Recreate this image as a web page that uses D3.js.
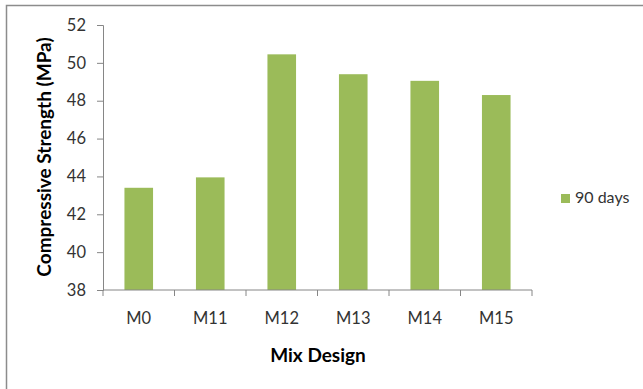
<!DOCTYPE html>
<html><head><meta charset="utf-8">
<script src="https://cdn.jsdelivr.net/npm/d3@7"></script>
<style>body{margin:0;background:#fff;} svg{display:block;}</style>
</head><body>
<svg id="c" width="643" height="389"></svg>
<script>
const categories = ["M0","M11","M12","M13","M14","M15"];
const values90 = [43.4, 43.95, 50.45, 49.4, 49.05, 48.3];
const yTicks = [38,40,42,44,46,48,50,52];
const seriesName = "90 days";

const svg = d3.select("#c");
const font = "Lato, 'Open Sans', sans-serif";
// frame
svg.append("path").attr("d","M6.5,400 V5.5 H660").attr("fill","none").attr("stroke","#8c8c8c").attr("stroke-width",1.5);

const x0=103, x1=532, yTop=25, yBot=290;
const x = d3.scaleBand().domain(categories).range([x0,x1]).paddingInner(0.6).paddingOuter(0.3);
const y = d3.scaleLinear().domain([38,52]).range([yBot,yTop]);

svg.append("g").selectAll("rect").data(values90).join("rect")
  .attr("x",(d,i)=>x(categories[i])).attr("width",x.bandwidth())
  .attr("y",d=>y(d)).attr("height",d=>yBot-y(d)).attr("fill","#9bbb59");

const ya = svg.append("g").attr("transform",`translate(${x0},0)`)
  .call(d3.axisLeft(y).tickValues(yTicks).tickSize(6).tickPadding(11));
ya.select(".domain").attr("stroke","#868686");
ya.selectAll(".tick line").attr("stroke","#868686");
ya.selectAll("text").attr("font-family",font).attr("font-size",16.5).attr("fill","#333");

// x axis
const step=(x1-x0)/categories.length;
const xa = svg.append("g").attr("transform",`translate(0,${yBot})`);
xa.append("line").attr("x1",x0).attr("x2",x1).attr("stroke","#868686");
xa.selectAll("line.t").data(d3.range(categories.length+1)).join("line").attr("class","t")
  .attr("x1",i=>x0+i*step).attr("x2",i=>x0+i*step).attr("y1",0).attr("y2",6).attr("stroke","#868686");
xa.selectAll("text").data(categories).join("text")
  .attr("x",d=>x(d)+x.bandwidth()/2).attr("y",34).attr("text-anchor","middle")
  .attr("font-family",font).attr("font-size",16.5).attr("fill","#333").text(d=>d);

svg.append("text").attr("x",318).attr("y",362).attr("text-anchor","middle")
  .attr("font-family",font).attr("font-weight","bold").attr("font-size",19).attr("fill","#000").text("Mix Design");
svg.append("text").attr("transform","translate(51,157) rotate(-90)").attr("text-anchor","middle")
  .attr("font-family",font).attr("font-weight","bold").attr("font-size",19).attr("fill","#000").text("Compressive Strength (MPa)");

// legend
svg.append("rect").attr("x",561).attr("y",194).attr("width",9).attr("height",9).attr("fill","#9bbb59");
svg.append("text").attr("x",575).attr("y",203).attr("font-family",font).attr("font-size",16).attr("fill","#333").text(seriesName);
</script>
</body></html>
